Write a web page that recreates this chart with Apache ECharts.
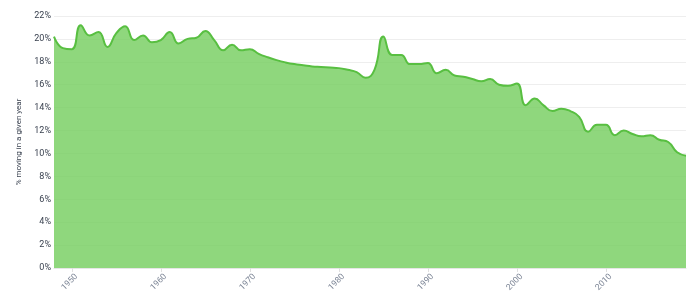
<!DOCTYPE html>
<html>
<head>
<meta charset="utf-8">
<script src="https://cdn.jsdelivr.net/npm/echarts@6/dist/echarts.min.js"></script>
<style>
html,body{margin:0;padding:0;background:#fff;}
#chart{width:700px;height:301px;}
</style>
</head>
<body>
<div id="chart"></div>
<script>
const years = [1948,1949,1950,1951,1952,1953,1954,1955,1956,1957,1958,1959,1960,1961,1962,1963,1964,1965,1966,1967,1968,1969,1970,1971,1972,1973,1974,1975,1976,1977,1978,1979,1980,1981,1982,1983,1984,1985,1986,1987,1988,1989,1990,1991,1992,1993,1994,1995,1996,1997,1998,1999,2000,2001,2002,2003,2004,2005,2006,2007,2008,2009,2010,2011,2012,2013,2014,2015,2016,2017,2018,2019];
const movingRate = [20.2,19.2,19.1,21.2,20.3,20.6,19.3,20.5,21.1,19.9,20.3,19.7,19.9,20.6,19.6,20.0,20.1,20.7,19.9,19.0,19.5,19.0,19.1,18.7,18.4,18.15,17.95,17.8,17.7,17.6,17.55,17.5,17.45,17.3,17.1,16.6,17.3,20.2,18.6,18.6,17.8,17.8,17.9,17.0,17.3,16.8,16.7,16.5,16.3,16.5,16.0,15.9,16.1,14.2,14.8,14.2,13.7,13.9,13.7,13.2,11.9,12.5,12.5,11.6,12.0,11.7,11.5,11.6,11.2,11.0,10.1,9.8];
const xTickYears = [1950,1960,1970,1980,1990,2000,2010];
const yAxisTitle = '% moving in a given year';

const chart = echarts.init(document.getElementById('chart'), null, {renderer:'canvas'});
chart.setOption({
  animation: false,
  textStyle: {fontFamily: 'Roboto, "Noto Sans", sans-serif'},
  grid: {left: 54, right: 14, top: 16, bottom: 33, containLabel: false},
  xAxis: {
    type: 'value',
    min: 1948,
    max: 2019,
    splitLine: {show: false},
    axisLine: {show: true, lineStyle: {color: '#e6e6e6'}},
    axisTick: {show: true, customValues: xTickYears, length: 4, lineStyle: {color: '#e0e0e0'}},
    axisLabel: {
      customValues: xTickYears,
      rotate: 45,
      align: 'center',
      verticalAlign: 'middle',
      padding: [0, 6, 0, 0],
      margin: 12,
      color: '#7a8394',
      fontSize: 8.5,
      formatter: v => String(v)
    }
  },
  yAxis: {
    type: 'value',
    min: 0,
    max: 22,
    interval: 2,
    name: yAxisTitle,
    nameLocation: 'middle',
    nameGap: 29,
    nameTextStyle: {color: '#3a4250', fontSize: 8},
    axisLine: {show: false},
    axisTick: {show: false},
    axisLabel: {formatter: '{value}%', color: '#3a4250', fontSize: 9, margin: 3},
    splitLine: {show: true, lineStyle: {color: '#eeeeee', width: 1}}
  },
  series: [{
    type: 'line',
    data: years.map((y, i) => [y, movingRate[i]]),
    smooth: 0.5,
    symbol: 'none',
    lineStyle: {color: '#58bf41', width: 2},
    areaStyle: {color: 'rgb(118,206,96)', opacity: 0.82}
  }]
});
</script>
</body>
</html>
